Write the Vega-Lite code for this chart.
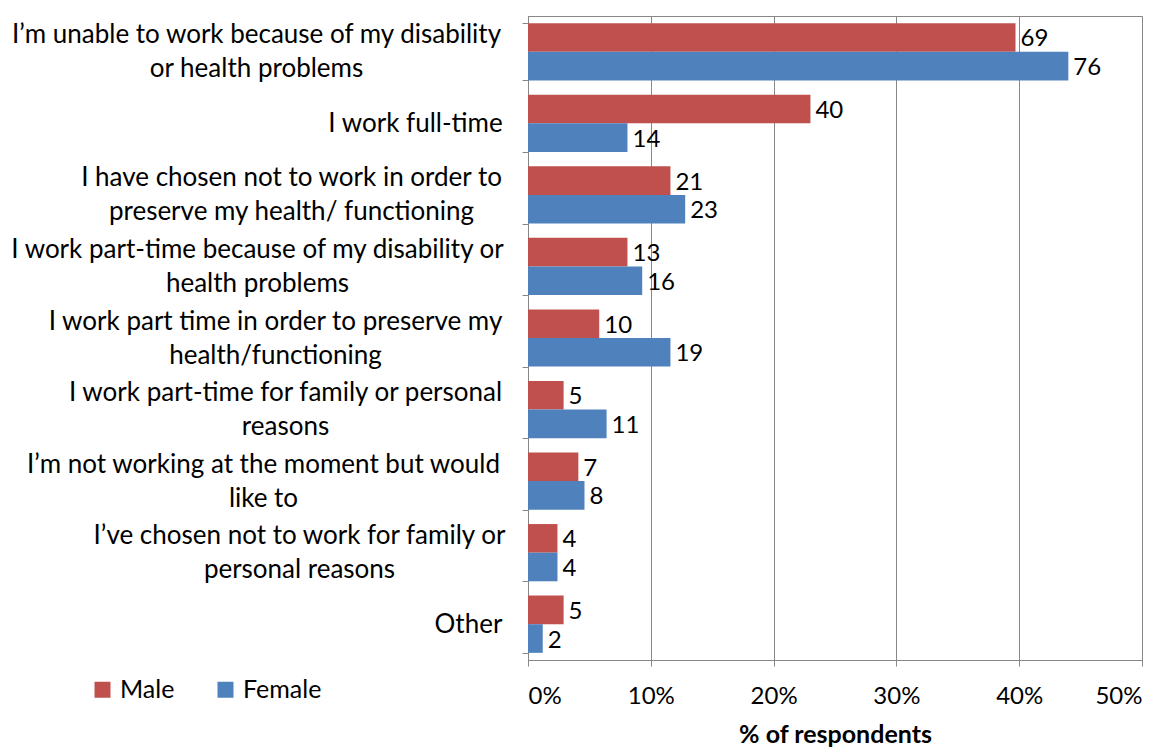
{
  "$schema": "https://vega.github.io/schema/vega-lite/v6.json",
  "autosize": "none",
  "width": 614,
  "height": 644,
  "padding": {"left": 528, "top": 16, "right": 27, "bottom": 87},
  "background": "white",
  "config": {
    "font": "Lato",
    "view": {"stroke": "#878787", "strokeWidth": 1},
    "axis": {"labelFont": "Lato", "titleFont": "Lato", "labelColor": "#000", "titleColor": "#000"}
  },
  "data": {
    "values": [
      {"order": 1, "category": "I’m unable to work because of my disability|or health problems", "sex": "Male", "pct": 0.397, "count": 69},
      {"order": 1, "category": "I’m unable to work because of my disability|or health problems", "sex": "Female", "pct": 0.440, "count": 76},
      {"order": 2, "category": "I work full-time", "sex": "Male", "pct": 0.230, "count": 40},
      {"order": 2, "category": "I work full-time", "sex": "Female", "pct": 0.081, "count": 14},
      {"order": 3, "category": "I have chosen not to work in order to|preserve my health/ functioning", "sex": "Male", "pct": 0.116, "count": 21},
      {"order": 3, "category": "I have chosen not to work in order to|preserve my health/ functioning", "sex": "Female", "pct": 0.128, "count": 23},
      {"order": 4, "category": "I work part-time because of my disability or|health problems", "sex": "Male", "pct": 0.081, "count": 13},
      {"order": 4, "category": "I work part-time because of my disability or|health problems", "sex": "Female", "pct": 0.093, "count": 16},
      {"order": 5, "category": "I work part time in order to preserve my|health/functioning", "sex": "Male", "pct": 0.058, "count": 10},
      {"order": 5, "category": "I work part time in order to preserve my|health/functioning", "sex": "Female", "pct": 0.116, "count": 19},
      {"order": 6, "category": "I work part-time for family or personal|reasons", "sex": "Male", "pct": 0.029, "count": 5},
      {"order": 6, "category": "I work part-time for family or personal|reasons", "sex": "Female", "pct": 0.064, "count": 11},
      {"order": 7, "category": "I’m not working at the moment but would|like to", "sex": "Male", "pct": 0.041, "count": 7},
      {"order": 7, "category": "I’m not working at the moment but would|like to", "sex": "Female", "pct": 0.046, "count": 8},
      {"order": 8, "category": "I’ve chosen not to work for family or|personal reasons", "sex": "Male", "pct": 0.024, "count": 4},
      {"order": 8, "category": "I’ve chosen not to work for family or|personal reasons", "sex": "Female", "pct": 0.024, "count": 4},
      {"order": 9, "category": "Other", "sex": "Male", "pct": 0.029, "count": 5},
      {"order": 9, "category": "Other", "sex": "Female", "pct": 0.012, "count": 2}
    ]
  },
  "encoding": {
    "y": {
      "field": "category",
      "type": "nominal",
      "sort": {"field": "order", "order": "ascending"},
      "scale": {"paddingInner": 0.2, "paddingOuter": 0.1},
      "axis": {
        "title": null,
        "labelExpr": "datum.value ? split(datum.value, '|') : ''",
        "labelAlign": "center",
        "labelBaseline": "middle",
        "labelPadding": {"expr": "datum.value ? [266, 107, 231, 265, 247, 237, 259, 223, 54][indexof(domain('y'), datum.value)] : 0"},
        "labelOffset": {"expr": "datum.value && length(split(datum.value, '|')) > 1 ? -17 : 0"},
        "labelFontSize": 26,
        "labelLineHeight": 34,
        "labelLimit": 600,
        "domainColor": "#878787",
        "tickColor": "#878787",
        "tickSize": 6,
        "tickBand": "extent",
        "grid": false
      }
    },
    "yOffset": {"field": "sex", "type": "nominal", "scale": {"domain": ["Male", "Female"], "paddingInner": 0, "paddingOuter": 0}},
    "x": {
      "field": "pct",
      "type": "quantitative",
      "scale": {"domain": [0, 0.5], "nice": false},
      "axis": {
        "title": "% of respondents",
        "titleFontSize": 25,
        "titleFontWeight": "bold",
        "titlePadding": 14,
        "format": "%",
        "values": [0, 0.1, 0.2, 0.3, 0.4, 0.5],
        "labelFontSize": 24,
        "labelPadding": 18,
        "domainColor": "#878787",
        "tickColor": "#878787",
        "tickSize": 6,
        "gridColor": "#878787",
        "gridWidth": 1
      }
    }
  },
  "layer": [
    {
      "mark": {"type": "bar"},
      "encoding": {
        "color": {
          "field": "sex",
          "type": "nominal",
          "scale": {"domain": ["Male", "Female"], "range": ["#C0504D", "#4F81BD"]},
          "legend": {
            "title": null,
            "orient": "none",
            "legendX": -438,
            "legendY": 661,
            "direction": "horizontal",
            "symbolType": "square",
            "symbolSize": 256,
            "symbolStrokeWidth": 0,
            "labelFontSize": 25,
            "labelFont": "Lato",
            "labelColor": "#000",
            "labelOffset": 5,
            "columnPadding": 38
          }
        }
      }
    },
    {
      "mark": {"type": "text", "align": "left", "baseline": "middle", "dx": 5, "dy": 2, "fontSize": 24, "font": "Lato", "color": "#000"},
      "encoding": {"text": {"field": "count", "type": "quantitative"}}
    }
  ]
}
